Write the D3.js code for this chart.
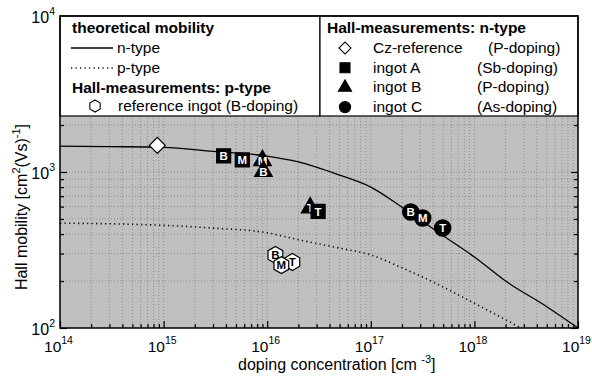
<!DOCTYPE html>
<html>
<head>
<meta charset="utf-8">
<script src="https://cdn.jsdelivr.net/npm/d3@7"></script>
<style>
  body { margin: 0; background: #fff; }
  svg { display: block; font-family: "Liberation Sans", Arial, sans-serif; }
</style>
</head>
<body>
<svg id="chart" width="592" height="379"></svg>
<script>
// theoretical mobility curves (doping in cm^-3, mobility in cm^2/Vs)
const nTypeDoping = [1e14, 3e14, 1e15, 3e15, 1e16, 2e16, 5e16, 1e17, 2e17, 5e17, 1e18, 2e18, 5e18, 1e19];
const nTypeMobility = [1465, 1455, 1440, 1355, 1265, 1160, 955, 800, 595, 390, 285, 200, 137, 100];
const pTypeDoping = [1e14, 1e15, 3e15, 1e16, 2e16, 5e16, 1e17, 2e17, 4e17, 1e18, 2e18, 2.8e18];
const pTypeMobility = [470, 455, 437, 408, 368, 325, 294, 243, 197, 144, 113, 100];

// Hall measurements, position in ingot: B = begin, M = middle, T = tail
const czRefDoping = [8.7e14];
const czRefMobility = [1480];
const ingotALabels = ['B', 'M', 'T'];
const ingotADoping = [3.8e15, 5.75e15, 3.1e16];
const ingotAMobility = [1270, 1195, 560];
const ingotBLabels = ['M', 'B', 'T'];
const ingotBDoping = [9.0e15, 9.2e15, 2.6e16];
const ingotBMobility = [1185, 1010, 590];
const ingotCLabels = ['B', 'M', 'T'];
const ingotCDoping = [2.43e17, 3.17e17, 4.94e17];
const ingotCMobility = [554, 507, 438];
const refIngotLabels = ['B', 'T', 'M'];
const refIngotDoping = [1.2e16, 1.75e16, 1.37e16];
const refIngotMobility = [294, 265, 253];

const xTickExp = [14, 15, 16, 17, 18, 19];
const yTickExp = [2, 3, 4];

const svg = d3.select('#chart');
const plot = {left: 60, right: 578, top: 16, bottom: 328};

const x = d3.scaleLog().domain([1e14, 1e19]).range([plot.left, plot.right]);
const y = d3.scaleLog().domain([100, 10000]).range([plot.bottom, plot.top]);

svg.append('defs').append('clipPath').attr('id', 'plotClip')
  .append('rect').attr('x', plot.left).attr('y', plot.top)
  .attr('width', plot.right - plot.left).attr('height', plot.bottom - plot.top);

svg.append('rect')
  .attr('x', plot.left).attr('y', plot.top)
  .attr('width', plot.right - plot.left).attr('height', plot.bottom - plot.top)
  .attr('fill', '#c0c0c0');

// grid
const xGrid = x.ticks();
const yGrid = y.ticks();
svg.append('g').selectAll('line').data(xGrid).enter().append('line')
  .attr('x1', d => x(d)).attr('x2', d => x(d))
  .attr('y1', plot.top).attr('y2', plot.bottom)
  .attr('stroke', '#8e8e8e').attr('stroke-width', 1).attr('stroke-dasharray', '1,2');
svg.append('g').selectAll('line').data(yGrid).enter().append('line')
  .attr('x1', plot.left).attr('x2', plot.right)
  .attr('y1', d => y(d)).attr('y2', d => y(d))
  .attr('stroke', '#8e8e8e').attr('stroke-width', 1).attr('stroke-dasharray', '1,2');

// ticks (inward, on all sides)
const isMajor = d => Math.abs(Math.log10(d) - Math.round(Math.log10(d))) < 1e-9;
const noLabel = () => '';
function tickAxes(axisFn, scale, vals, len, transform) {
  const g = svg.append('g').attr('transform', transform)
    .call(axisFn(scale).tickValues(vals).tickSize(-len).tickFormat(noLabel));
  g.select('.domain').remove();
  g.selectAll('line').attr('stroke', '#000').attr('stroke-width', 1.2);
}
const xMinor = xGrid.filter(d => !isMajor(d)), xMajor = xGrid.filter(isMajor);
const yMinor = yGrid.filter(d => !isMajor(d)), yMajor = yGrid.filter(isMajor);
tickAxes(d3.axisBottom, x, xMinor, 4, `translate(0,${plot.bottom})`);
tickAxes(d3.axisBottom, x, xMajor, 7, `translate(0,${plot.bottom})`);
tickAxes(d3.axisLeft, y, yMinor, 4, `translate(${plot.left},0)`);
tickAxes(d3.axisLeft, y, yMajor, 7, `translate(${plot.left},0)`);
tickAxes(d3.axisRight, y, yMinor, 4, `translate(${plot.right},0)`);
tickAxes(d3.axisRight, y, yMajor, 7, `translate(${plot.right},0)`);

// theory curves
const line = d3.line().x(d => x(d[0])).y(d => y(d[1])).curve(d3.curveMonotoneX);
const curves = svg.append('g').attr('clip-path', 'url(#plotClip)');
curves.append('path')
  .attr('d', line(d3.zip(nTypeDoping, nTypeMobility)))
  .attr('fill', 'none').attr('stroke', '#000').attr('stroke-width', 1.3);
curves.append('path')
  .attr('d', line(d3.zip(pTypeDoping, pTypeMobility)))
  .attr('fill', 'none').attr('stroke', '#111').attr('stroke-width', 1.6)
  .attr('stroke-dasharray', '1.3,3.2');

// marker shapes
const hexagon = {
  draw(ctx, size) {
    const r = Math.sqrt(size * 2 / (3 * Math.sqrt(3)));
    for (let i = 0; i < 6; i++) {
      const a = Math.PI / 3 * i - Math.PI / 2;
      if (i === 0) ctx.moveTo(r * Math.cos(a), r * Math.sin(a));
      else ctx.lineTo(r * Math.cos(a), r * Math.sin(a));
    }
    ctx.closePath();
  }
};
const hexArea = r => 3 * Math.sqrt(3) / 2 * r * r;

function drawSeries(doping, mobility, labels, type, size, fill, textFill, rotate) {
  const g = svg.append('g');
  const pts = g.selectAll('g').data(d3.range(doping.length)).enter().append('g')
    .attr('transform', i => `translate(${x(doping[i])},${y(mobility[i])})`);
  pts.append('path')
    .attr('d', d3.symbol().type(type).size(size)())
    .attr('transform', rotate ? 'rotate(45)' : null)
    .attr('fill', fill).attr('stroke', '#000').attr('stroke-width', 1.2);
  if (labels) {
    pts.append('text')
      .attr('text-anchor', 'middle')
      .attr('dy', type === d3.symbolTriangle ? '0.4em' : '0.37em')
      .attr('font-size', 11.5).attr('font-weight', 'bold')
      .attr('fill', textFill)
      .text(i => labels[i]);
  }
}

drawSeries(czRefDoping, czRefMobility, null, d3.symbolSquare, 128, '#fff', null, true);
drawSeries(refIngotDoping, refIngotMobility, refIngotLabels, hexagon, hexArea(8.5), '#fff', '#000');
drawSeries(ingotBDoping, ingotBMobility, ingotBLabels, d3.symbolTriangle, 135, '#000', '#fff');
drawSeries(ingotADoping, ingotAMobility, ingotALabels, d3.symbolSquare, 196, '#000', '#fff');
drawSeries(ingotCDoping, ingotCMobility, ingotCLabels, d3.symbolCircle, 210, '#000', '#fff');

// legends
const fs = 15.5;
const legL = svg.append('g');
legL.append('rect').attr('x', plot.left).attr('y', plot.top).attr('width', 320 - plot.left).attr('height', 116 - plot.top)
  .attr('fill', '#fff').attr('stroke', '#000').attr('stroke-width', 1.2);
legL.append('text').attr('x', 72).attr('y', 33).attr('font-size', fs).attr('font-weight', 'bold').text('theoretical mobility');
legL.append('line').attr('x1', 71).attr('x2', 113).attr('y1', 48).attr('y2', 48)
  .attr('stroke', '#000').attr('stroke-width', 1.3);
legL.append('text').attr('x', 117).attr('y', 53).attr('font-size', fs).text('n-type');
legL.append('line').attr('x1', 71).attr('x2', 113).attr('y1', 68).attr('y2', 68)
  .attr('stroke', '#111').attr('stroke-width', 1.4).attr('stroke-dasharray', '1.3,3.2');
legL.append('text').attr('x', 117).attr('y', 73).attr('font-size', fs).text('p-type');
legL.append('text').attr('x', 72).attr('y', 93).attr('font-size', fs).attr('font-weight', 'bold').text('Hall-measurements: p-type');
legL.append('path').attr('transform', 'translate(95,106)')
  .attr('d', d3.symbol().type(hexagon).size(hexArea(6))())
  .attr('fill', '#fff').attr('stroke', '#000').attr('stroke-width', 1.1);
legL.append('text').attr('x', 118).attr('y', 111).attr('font-size', fs).text('reference ingot (B-doping)');

const legR = svg.append('g');
legR.append('rect').attr('x', 320).attr('y', plot.top).attr('width', plot.right - 320).attr('height', 116 - plot.top)
  .attr('fill', '#fff').attr('stroke', '#000').attr('stroke-width', 1.2);
legR.append('text').attr('x', 327).attr('y', 33).attr('font-size', fs).attr('font-weight', 'bold').text('Hall-measurements: n-type');
const legRows = [
  {type: d3.symbolSquare, size: 72, fill: '#fff', rot: true, name: 'Cz-reference', dop: '(P-doping)', dx: 488},
  {type: d3.symbolSquare, size: 100, fill: '#000', name: 'ingot A', dop: '(Sb-doping)', dx: 477},
  {type: d3.symbolTriangle, size: 75, fill: '#000', name: 'ingot B', dop: '(P-doping)', dx: 477},
  {type: d3.symbolCircle, size: 100, fill: '#000', name: 'ingot C', dop: '(As-doping)', dx: 477}
];
legRows.forEach((r, i) => {
  const cy = 48 + i * 19.7;
  legR.append('path').attr('transform', `translate(345,${cy})` + (r.rot ? ' rotate(45)' : ''))
    .attr('d', d3.symbol().type(r.type).size(r.size)())
    .attr('fill', r.fill).attr('stroke', '#000').attr('stroke-width', 1.1);
  legR.append('text').attr('x', 373).attr('y', cy + 5).attr('font-size', fs).text(r.name);
  legR.append('text').attr('x', r.dx).attr('y', cy + 5).attr('font-size', fs).text(r.dop);
});

// frame
svg.append('rect')
  .attr('x', plot.left).attr('y', plot.top)
  .attr('width', plot.right - plot.left).attr('height', plot.bottom - plot.top)
  .attr('fill', 'none').attr('stroke', '#000').attr('stroke-width', 1.5);

// tick labels with superscripts
function powerLabel(g, px, py, exp, anchor, size) {
  const t = g.append('text').attr('x', px).attr('y', py).attr('text-anchor', anchor).attr('font-size', size);
  t.append('tspan').text('10');
  t.append('tspan').attr('dy', -8).attr('font-size', 10.5).text(exp);
}
const labels = svg.append('g').attr('fill', '#000');
xTickExp.forEach(e => powerLabel(labels, x(Math.pow(10, e)) - 1.5, 352, e, 'middle', 15.5));
yTickExp.forEach(e => powerLabel(labels, 55, y(Math.pow(10, e)) + 7, e, 'end', 16));

// axis titles
const xt = svg.append('text').attr('x', 238).attr('y', 370).attr('font-size', 16);
xt.append('tspan').text('doping concentration [cm ');
xt.append('tspan').attr('dy', -7).attr('font-size', 11).text('-3');
xt.append('tspan').attr('dy', 7).text(']');

const yt = svg.append('text')
  .attr('transform', 'translate(27,207) rotate(-90)')
  .attr('text-anchor', 'middle').attr('font-size', 16);
yt.append('tspan').text('Hall mobility [cm');
yt.append('tspan').attr('dy', -7).attr('font-size', 11).text('2');
yt.append('tspan').attr('dy', 7).text('(Vs)');
yt.append('tspan').attr('dy', -7).attr('font-size', 11).text('-1');
yt.append('tspan').attr('dy', 7).text(']');
</script>
</body>
</html>
